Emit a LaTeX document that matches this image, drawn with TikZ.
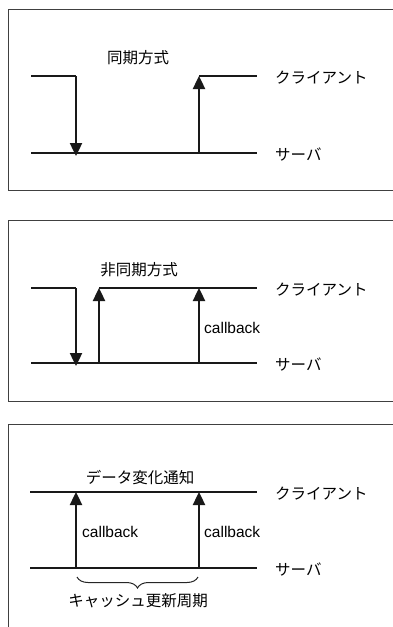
\documentclass[tikz,border=0pt]{standalone}
\usepackage{fontspec}
\setmainfont{Liberation Sans}
\newfontfamily\jpfont{Noto Sans CJK JP}
\usetikzlibrary{arrows.meta,decorations.pathreplacing}
\begin{document}
\begin{tikzpicture}[x=1pt,y=-1pt,
  frame/.style={draw=black!75,line width=1pt},
  lifeline/.style={draw=black!90,line width=2.4pt},
  msg/.style={draw=black!90,line width=2.4pt,-{Triangle[length=13pt,width=12pt]}},
  jp/.style={font=\jpfont\fontsize{15.5}{18}\selectfont,inner sep=0pt},
  en/.style={font=\fontsize{15.5}{18}\selectfont,inner sep=0pt},
  bracestyle/.style={draw=black!85,line width=1pt,decorate,decoration={brace,mirror,amplitude=11pt}}]
\useasboundingbox (0,0) rectangle (393,627);
% ---------- panel 1 ----------
\draw[frame] (393,9) -- (8,9) -- (8,190) -- (393,190);
\coordinate (c1a) at (31,76);
\coordinate (c1b) at (76,76);
\coordinate (s1b) at (76,153);
\coordinate (s1a) at (31,153);
\coordinate (s1c) at (199,153);
\coordinate (c1c) at (199,76);
\coordinate (c1d) at (257,76);
\coordinate (s1d) at (257,153);
\draw[lifeline] (c1a) -- (c1b);
\draw[msg] (c1b) -- ([yshift=-3pt]s1b);
\draw[lifeline] (s1a) -- (s1d);
\draw[msg] (s1c) -- (c1c);
\draw[lifeline] (c1c) -- (c1d);
\node[jp] (t1) at (138,58) {同期方式};
\node[jp,anchor=west] (cl1) at (275,78) {クライアント};
\node[jp,anchor=west] (sv1) at (275,155) {サーバ};
% ---------- panel 2 ----------
\draw[frame] (393,220) -- (8,220) -- (8,401) -- (393,401);
\coordinate (c2a) at (31,288);
\coordinate (c2b) at (76,288);
\coordinate (s2b) at (76,363);
\coordinate (s2a) at (31,363);
\coordinate (s2c) at (99,363);
\coordinate (c2c) at (99,288);
\coordinate (s2e) at (199,363);
\coordinate (c2e) at (199,288);
\coordinate (c2d) at (257,288);
\coordinate (s2d) at (257,363);
\draw[lifeline] (c2a) -- (c2b);
\draw[msg] (c2b) -- ([yshift=-3pt]s2b);
\draw[lifeline] (s2a) -- (s2d);
\draw[msg] (s2c) -- (c2c);
\draw[lifeline] (c2c) -- (c2d);
\draw[msg] (s2e) -- (c2e);
\node[jp] (t2) at (139,270) {非同期方式};
\node[en,anchor=west] (cb2) at (204,328) {callback};
\node[jp,anchor=west] (cl2) at (275,290) {クライアント};
\node[jp,anchor=west] (sv2) at (275,365) {サーバ};
% ---------- panel 3 ----------
\draw[frame] (393,424) -- (8,424) -- (8,627);
\coordinate (c3a) at (30,492);
\coordinate (c3d) at (257,492);
\coordinate (s3a) at (30,568);
\coordinate (s3d) at (257,568);
\coordinate (s3b) at (76,568);
\coordinate (c3b) at (76,492);
\coordinate (s3c) at (199,568);
\coordinate (c3c) at (199,492);
\draw[lifeline] (c3a) -- (c3d);
\draw[lifeline] (s3a) -- (s3d);
\draw[msg] (s3b) -- (c3b);
\draw[msg] (s3c) -- (c3c);
\node[jp] (t3) at (140,478) {データ変化通知};
\node[en,anchor=west] (cb3a) at (82,532) {callback};
\node[en,anchor=west] (cb3b) at (204,532) {callback};
\node[jp,anchor=west] (cl3) at (275,494) {クライアント};
\node[jp,anchor=west] (sv3) at (275,570) {サーバ};
\coordinate (b1) at (77,577);
\coordinate (b2) at (198,577);
\draw[bracestyle] (b1) -- (b2);
\node[jp] (t4) at (138,601) {キャッシュ更新周期};
\end{tikzpicture}
\end{document}
